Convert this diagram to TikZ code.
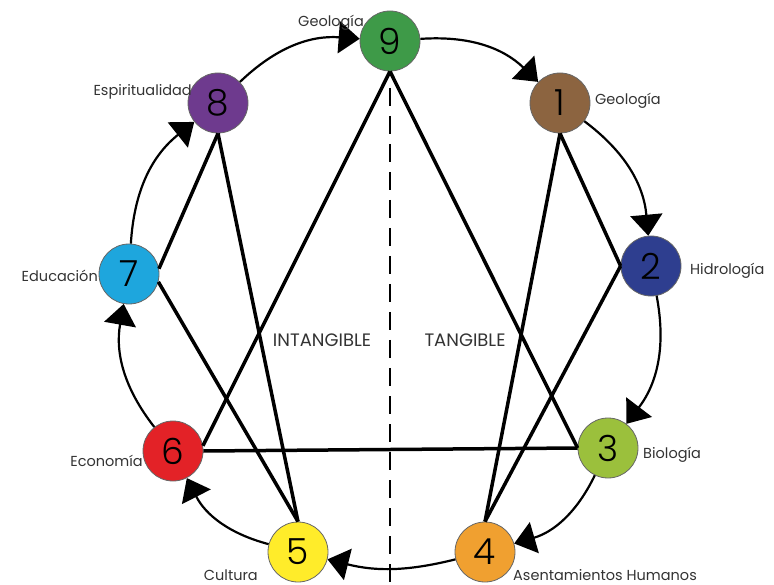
\documentclass[tikz,border=0pt]{standalone}
\usepackage{fontspec}
\setmainfont{Poppins}
\newfontfamily\numfont{Poppins}[UprightFont={* Light}]
\usetikzlibrary{arrows.meta}
\definecolor{c9}{RGB}{62,154,72}
\definecolor{c1}{RGB}{140,100,64}
\definecolor{c2}{RGB}{46,62,143}
\definecolor{c3}{RGB}{155,192,60}
\definecolor{c4}{RGB}{240,160,48}
\definecolor{c5}{RGB}{255,236,42}
\definecolor{c6}{RGB}{227,34,39}
\definecolor{c7}{RGB}{30,166,221}
\definecolor{c8}{RGB}{110,58,142}
\begin{document}
\begin{tikzpicture}[x=1pt,y=-1pt,
  num/.style={circle,draw=black!60,line width=0.8pt,minimum size=60pt,inner sep=0pt,font=\numfont\fontsize{36}{36}\selectfont},
  lab/.style={font=\fontsize{14.5}{16}\selectfont, text=black!80, inner sep=0pt},
  big/.style={font=\fontsize{18}{20}\selectfont, text=black!80, inner sep=0pt},
  arc/.style={line width=2.2pt,-{Triangle[length=21pt,width=32pt]}, bend left=24},
  heavy/.style={line width=3.5pt}]
\useasboundingbox (0,0) rectangle (774,585);
\node[num,fill=c9] (n9) at (390,41) {9};
\node[num,fill=c1] (n1) at (560,103) {1};
\node[num,fill=c2] (n2) at (651,266) {2};
\node[num,fill=c3] (n3) at (608,448) {3};
\node[num,fill=c4] (n4) at (485,552) {4};
\node[num,fill=c5] (n5) at (298,552) {5};
\node[num,fill=c6] (n6) at (173,451) {6};
\node[num,fill=c7] (n7) at (129,274) {7};
\node[num,fill=c8] (n8) at (218,103) {8};
% dashed axis
\coordinate (dtop) at (390,88);
\coordinate (dbot) at (390,585);
\draw[line width=2pt, dash pattern=on 18pt off 10pt] (dtop) -- (dbot);
% cycle arcs
\draw[arc] (n9) to (n1);
\draw[arc] (n1) to (n2);
\draw[arc] (n2) to (n3);
\draw[arc] (n3) to (n4);
\draw[arc,bend left=14] (n4) to (n5);
\draw[arc] (n5) to (n6);
\draw[arc] (n6) to (n7);
\draw[arc] (n7) to (n8);
\draw[arc] (n8) to (n9);
% heavy lines
\draw[heavy] (n9.south) -- (n6.10);
\draw[heavy] (n9.south) -- (n3.west);
\draw[heavy] (n6.east) -- (n3.west);
\draw[heavy] (n1.south) -- (n4.north);
\draw[heavy] (n1.south) -- (n2.west);
\draw[heavy] (n2.west) -- (n4.north);
\draw[heavy] (n8.south) -- (n7.10);
\draw[heavy] (n8.south) -- (n5.north);
\draw[heavy] (n7.-15) -- (n5.north);
% labels
\node[lab,anchor=base east] (l9) at (364,27) {Geología};
\node[lab,anchor=base west] (l1) at (595,105) {Geología};
\node[lab,anchor=base west] (l2) at (690,275) {Hidrología};
\node[lab,anchor=base west] (l3) at (643,458) {Biología};
\node[lab,anchor=base west] (l4) at (513,580) {Asentamientos Humanos};
\node[lab,anchor=base east] (l5) at (258,580) {Cultura};
\node[lab,anchor=base east] (l6) at (143,466) {Economía};
\node[lab,anchor=base east] (l7) at (98,282) {Educación};
\node[lab,anchor=base east] (l8) at (192,96) {Espiritualidad};
\node[big] (tin) at (322,340) {INTANGIBLE};
\node[big] (tta) at (465,340) {TANGIBLE};
\end{tikzpicture}
\end{document}
